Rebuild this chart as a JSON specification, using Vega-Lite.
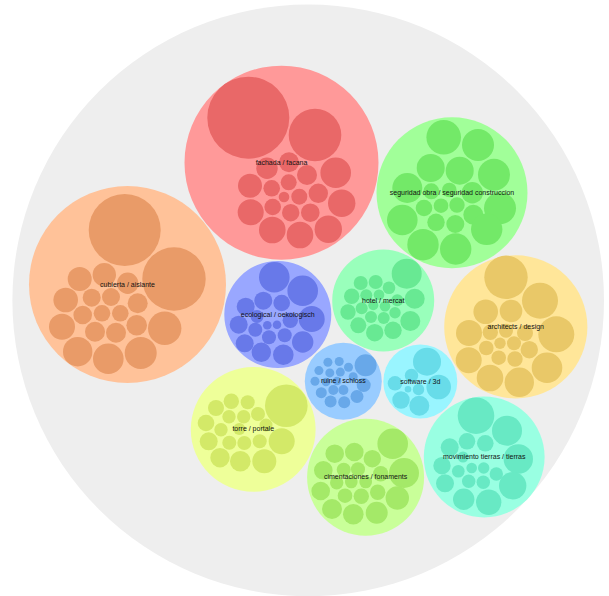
{
  "$schema": "https://vega.github.io/schema/vega-lite/v6.json",
  "width": 609,
  "height": 596,
  "padding": 0,
  "autosize": "none",
  "background": "white",
  "config": {"view": {"stroke": null}},
  "datasets": {
    "outer": [{"name": "all", "x": 308.2, "y": 300.4, "r": 295.8}],
    "groups": [
      {"name": "fachada / facana", "g": "A", "x": 281.5, "y": 162.7, "r": 97},
      {"name": "seguridad obra / seguridad construccion", "g": "B", "x": 452, "y": 192.7, "r": 75.5},
      {"name": "cubierta / aislante", "g": "C", "x": 127.5, "y": 284.5, "r": 98.5},
      {"name": "ecological / oekologisch", "g": "D", "x": 277.8, "y": 314.5, "r": 53.5},
      {"name": "hotel / mercat", "g": "E", "x": 383.2, "y": 300.5, "r": 51},
      {"name": "architects / design", "g": "F", "x": 515.8, "y": 326.9, "r": 71.6},
      {"name": "ruine / schloss", "g": "G", "x": 343.3, "y": 381.2, "r": 38.5},
      {"name": "software / 3d", "g": "H", "x": 420.3, "y": 381.5, "r": 37},
      {"name": "torre / portale", "g": "I", "x": 253.2, "y": 429.4, "r": 62.4},
      {"name": "cimentaciones / fonaments", "g": "J", "x": 365.6, "y": 477.2, "r": 58.5},
      {"name": "movimiento tierras / tierras", "g": "K", "x": 484.2, "y": 457, "r": 60.4}
    ],
    "leaves": [
      {"g": "A", "x": 248.3, "y": 117.7, "r": 41},
      {"g": "A", "x": 315, "y": 135, "r": 26.3},
      {"g": "A", "x": 267, "y": 168.3, "r": 10.7},
      {"g": "A", "x": 289, "y": 162.3, "r": 10},
      {"g": "A", "x": 307, "y": 175, "r": 10},
      {"g": "A", "x": 335.7, "y": 172.7, "r": 15.3},
      {"g": "A", "x": 250, "y": 185.7, "r": 12},
      {"g": "A", "x": 271.7, "y": 188.3, "r": 8.3},
      {"g": "A", "x": 288.7, "y": 182.3, "r": 8},
      {"g": "A", "x": 284, "y": 197, "r": 5.3},
      {"g": "A", "x": 299.3, "y": 196.7, "r": 8},
      {"g": "A", "x": 318.3, "y": 193.3, "r": 9.7},
      {"g": "A", "x": 341.7, "y": 203.3, "r": 13.7},
      {"g": "A", "x": 250.7, "y": 212.3, "r": 13},
      {"g": "A", "x": 272.7, "y": 207, "r": 8.3},
      {"g": "A", "x": 290.7, "y": 212.7, "r": 8.7},
      {"g": "A", "x": 310.3, "y": 212.7, "r": 9.3},
      {"g": "A", "x": 272.3, "y": 230, "r": 13.3},
      {"g": "A", "x": 300, "y": 235, "r": 13.3},
      {"g": "A", "x": 328.3, "y": 229.3, "r": 13.7},

      {"g": "B", "x": 443.7, "y": 137.3, "r": 17.3},
      {"g": "B", "x": 478, "y": 145, "r": 16},
      {"g": "B", "x": 430.7, "y": 168, "r": 14},
      {"g": "B", "x": 459.7, "y": 170.7, "r": 14},
      {"g": "B", "x": 494, "y": 174.7, "r": 16},
      {"g": "B", "x": 407.3, "y": 188, "r": 15},
      {"g": "B", "x": 431.3, "y": 191.3, "r": 8},
      {"g": "B", "x": 449.3, "y": 190, "r": 7.3},
      {"g": "B", "x": 472.3, "y": 192.7, "r": 10.7},
      {"g": "B", "x": 500, "y": 208.3, "r": 16},
      {"g": "B", "x": 424, "y": 208, "r": 8.3},
      {"g": "B", "x": 441, "y": 205.7, "r": 7.3},
      {"g": "B", "x": 457, "y": 205, "r": 7.7},
      {"g": "B", "x": 473.3, "y": 214.7, "r": 10},
      {"g": "B", "x": 402.3, "y": 220, "r": 15.3},
      {"g": "B", "x": 436, "y": 222.3, "r": 8.7},
      {"g": "B", "x": 455.3, "y": 224, "r": 9},
      {"g": "B", "x": 423, "y": 244.7, "r": 15.7},
      {"g": "B", "x": 455.7, "y": 249, "r": 15.7},
      {"g": "B", "x": 486.7, "y": 229.3, "r": 15.7},

      {"g": "C", "x": 124.7, "y": 230, "r": 36},
      {"g": "C", "x": 174, "y": 279, "r": 31.7},
      {"g": "C", "x": 79.7, "y": 279, "r": 12},
      {"g": "C", "x": 104.3, "y": 274.7, "r": 11.7},
      {"g": "C", "x": 127.7, "y": 283.3, "r": 10.7},
      {"g": "C", "x": 65.7, "y": 300, "r": 12.3},
      {"g": "C", "x": 91.7, "y": 297.7, "r": 9},
      {"g": "C", "x": 111, "y": 297, "r": 9},
      {"g": "C", "x": 137.7, "y": 303.3, "r": 10},
      {"g": "C", "x": 62, "y": 326.7, "r": 13},
      {"g": "C", "x": 82.7, "y": 315, "r": 9.3},
      {"g": "C", "x": 102, "y": 313.3, "r": 8.3},
      {"g": "C", "x": 120.3, "y": 313.3, "r": 8.3},
      {"g": "C", "x": 95, "y": 331.7, "r": 10},
      {"g": "C", "x": 116, "y": 332.7, "r": 10},
      {"g": "C", "x": 136.7, "y": 325.3, "r": 10.3},
      {"g": "C", "x": 164.7, "y": 328.3, "r": 16.7},
      {"g": "C", "x": 77.7, "y": 351.7, "r": 14.7},
      {"g": "C", "x": 108.3, "y": 358.7, "r": 15.3},
      {"g": "C", "x": 140.7, "y": 353, "r": 16},

      {"g": "D", "x": 274.3, "y": 277.3, "r": 15.3},
      {"g": "D", "x": 302.7, "y": 290.7, "r": 15.3},
      {"g": "D", "x": 263.3, "y": 300.7, "r": 9},
      {"g": "D", "x": 281.7, "y": 303, "r": 8.3},
      {"g": "D", "x": 245.7, "y": 306.7, "r": 9},
      {"g": "D", "x": 311.7, "y": 319, "r": 13},
      {"g": "D", "x": 257, "y": 316.5, "r": 6.5},
      {"g": "D", "x": 290.3, "y": 320.3, "r": 7.7},
      {"g": "D", "x": 238.7, "y": 324.7, "r": 9},
      {"g": "D", "x": 255.3, "y": 329.7, "r": 7},
      {"g": "D", "x": 267.3, "y": 325.3, "r": 4.3},
      {"g": "D", "x": 277, "y": 324.7, "r": 4.3},
      {"g": "D", "x": 269, "y": 337.3, "r": 7},
      {"g": "D", "x": 284.7, "y": 335.3, "r": 7},
      {"g": "D", "x": 244.7, "y": 343.3, "r": 9},
      {"g": "D", "x": 302.7, "y": 342, "r": 10.7},
      {"g": "D", "x": 261.3, "y": 352.3, "r": 9.7},
      {"g": "D", "x": 283.3, "y": 354.7, "r": 10.3},

      {"g": "E", "x": 406.7, "y": 273.7, "r": 15},
      {"g": "E", "x": 360.7, "y": 283, "r": 7},
      {"g": "E", "x": 375.7, "y": 282, "r": 7},
      {"g": "E", "x": 389, "y": 287.7, "r": 6.3},
      {"g": "E", "x": 351.7, "y": 296.3, "r": 7.7},
      {"g": "E", "x": 366.3, "y": 295.3, "r": 6},
      {"g": "E", "x": 379, "y": 294.7, "r": 5.3},
      {"g": "E", "x": 397.3, "y": 300.3, "r": 6},
      {"g": "E", "x": 414.7, "y": 298.7, "r": 10},
      {"g": "E", "x": 348, "y": 312, "r": 7.7},
      {"g": "E", "x": 361.7, "y": 308.3, "r": 6},
      {"g": "E", "x": 373.3, "y": 305.3, "r": 5},
      {"g": "E", "x": 385, "y": 306.3, "r": 5.3},
      {"g": "E", "x": 395, "y": 312.7, "r": 5.7},
      {"g": "E", "x": 371, "y": 317, "r": 6},
      {"g": "E", "x": 383.7, "y": 318, "r": 6},
      {"g": "E", "x": 410.3, "y": 321, "r": 10},
      {"g": "E", "x": 358.3, "y": 325.3, "r": 8},
      {"g": "E", "x": 374.7, "y": 332.7, "r": 8.7},
      {"g": "E", "x": 393, "y": 330.3, "r": 8.7},

      {"g": "F", "x": 506, "y": 277.3, "r": 21.7},
      {"g": "F", "x": 540, "y": 300.7, "r": 18},
      {"g": "F", "x": 485.7, "y": 311.7, "r": 12.3},
      {"g": "F", "x": 511, "y": 311, "r": 11.3},
      {"g": "F", "x": 556.3, "y": 334.3, "r": 18},
      {"g": "F", "x": 469, "y": 333, "r": 13},
      {"g": "F", "x": 490.3, "y": 332.3, "r": 7.7},
      {"g": "F", "x": 506, "y": 330.7, "r": 7},
      {"g": "F", "x": 525, "y": 333, "r": 8},
      {"g": "F", "x": 486.3, "y": 348, "r": 7.3},
      {"g": "F", "x": 500, "y": 343.3, "r": 5.7},
      {"g": "F", "x": 514, "y": 343.3, "r": 7},
      {"g": "F", "x": 529.3, "y": 349.7, "r": 8.7},
      {"g": "F", "x": 468.7, "y": 360.3, "r": 13},
      {"g": "F", "x": 498.7, "y": 357.7, "r": 7.3},
      {"g": "F", "x": 515, "y": 359, "r": 7.7},
      {"g": "F", "x": 547, "y": 367.7, "r": 15.3},
      {"g": "F", "x": 490, "y": 378, "r": 13.3},
      {"g": "F", "x": 519.3, "y": 382.3, "r": 14.7},

      {"g": "G", "x": 327.9, "y": 362.2, "r": 4.5},
      {"g": "G", "x": 339.2, "y": 361.5, "r": 4.5},
      {"g": "G", "x": 348.5, "y": 367.2, "r": 4.5},
      {"g": "G", "x": 318.9, "y": 370.6, "r": 4.5},
      {"g": "G", "x": 329.8, "y": 372.9, "r": 4.5},
      {"g": "G", "x": 340.3, "y": 372.1, "r": 4.5},
      {"g": "G", "x": 353.2, "y": 376.7, "r": 4.5},
      {"g": "G", "x": 315, "y": 381.3, "r": 4.5},
      {"g": "G", "x": 326, "y": 382, "r": 4.3},
      {"g": "G", "x": 337, "y": 381, "r": 4.3},
      {"g": "G", "x": 365.6, "y": 365.3, "r": 11},
      {"g": "G", "x": 363.7, "y": 385.1, "r": 7},
      {"g": "G", "x": 321.3, "y": 392.7, "r": 5.5},
      {"g": "G", "x": 333.3, "y": 390, "r": 5},
      {"g": "G", "x": 343.4, "y": 390, "r": 5},
      {"g": "G", "x": 357, "y": 396.5, "r": 6.5},
      {"g": "G", "x": 330.6, "y": 401.4, "r": 6},
      {"g": "G", "x": 344.2, "y": 402.2, "r": 6},

      {"g": "H", "x": 427, "y": 361.7, "r": 14},
      {"g": "H", "x": 438.7, "y": 387, "r": 12.3},
      {"g": "H", "x": 411.5, "y": 375.5, "r": 6.7},
      {"g": "H", "x": 395, "y": 383.3, "r": 7.3},
      {"g": "H", "x": 408, "y": 389.3, "r": 3.3},
      {"g": "H", "x": 418.5, "y": 389.5, "r": 5.7},
      {"g": "H", "x": 401, "y": 400, "r": 8.7},
      {"g": "H", "x": 419.3, "y": 405.7, "r": 10},

      {"g": "I", "x": 286.3, "y": 405.7, "r": 21.3},
      {"g": "I", "x": 216, "y": 408, "r": 8},
      {"g": "I", "x": 231.3, "y": 401.3, "r": 7.7},
      {"g": "I", "x": 247.7, "y": 402.3, "r": 7},
      {"g": "I", "x": 206, "y": 423, "r": 8.3},
      {"g": "I", "x": 229, "y": 416.7, "r": 6.7},
      {"g": "I", "x": 243.7, "y": 416.7, "r": 6.7},
      {"g": "I", "x": 258, "y": 414, "r": 7},
      {"g": "I", "x": 221, "y": 429.7, "r": 6.7},
      {"g": "I", "x": 239.3, "y": 429, "r": 6},
      {"g": "I", "x": 266, "y": 425, "r": 6.5},
      {"g": "I", "x": 208.7, "y": 441.3, "r": 9},
      {"g": "I", "x": 229.3, "y": 442.7, "r": 7},
      {"g": "I", "x": 244.3, "y": 443, "r": 7},
      {"g": "I", "x": 259.7, "y": 441.3, "r": 7},
      {"g": "I", "x": 281.7, "y": 441.3, "r": 13},
      {"g": "I", "x": 220, "y": 457.7, "r": 9.7},
      {"g": "I", "x": 240.3, "y": 461.3, "r": 10.3},
      {"g": "I", "x": 264.3, "y": 461.3, "r": 12},

      {"g": "J", "x": 392.7, "y": 443.7, "r": 15.3},
      {"g": "J", "x": 334.7, "y": 453.7, "r": 9.3},
      {"g": "J", "x": 354.3, "y": 452, "r": 9.3},
      {"g": "J", "x": 372.3, "y": 458.7, "r": 8.7},
      {"g": "J", "x": 323.3, "y": 470.3, "r": 9.3},
      {"g": "J", "x": 343.7, "y": 469.7, "r": 7},
      {"g": "J", "x": 358, "y": 469.3, "r": 7},
      {"g": "J", "x": 380.7, "y": 473.7, "r": 7.7},
      {"g": "J", "x": 404, "y": 473, "r": 15},
      {"g": "J", "x": 336.7, "y": 482.7, "r": 6.7},
      {"g": "J", "x": 351.3, "y": 482, "r": 6.3},
      {"g": "J", "x": 365.7, "y": 482, "r": 6.3},
      {"g": "J", "x": 320.7, "y": 491, "r": 9.3},
      {"g": "J", "x": 345, "y": 495.7, "r": 7.3},
      {"g": "J", "x": 361.3, "y": 496.3, "r": 7.7},
      {"g": "J", "x": 377.7, "y": 492.3, "r": 7.7},
      {"g": "J", "x": 397.3, "y": 498, "r": 11.7},
      {"g": "J", "x": 332, "y": 509, "r": 10},
      {"g": "J", "x": 353.3, "y": 514.3, "r": 10.3},
      {"g": "J", "x": 376.7, "y": 512.7, "r": 11},

      {"g": "K", "x": 476, "y": 415.7, "r": 18.3},
      {"g": "K", "x": 507, "y": 430.7, "r": 15},
      {"g": "K", "x": 467, "y": 441.3, "r": 8.3},
      {"g": "K", "x": 485.3, "y": 443.3, "r": 8.3},
      {"g": "K", "x": 449.7, "y": 447.3, "r": 9},
      {"g": "K", "x": 518.3, "y": 459, "r": 14.7},
      {"g": "K", "x": 463, "y": 457, "r": 5.5},
      {"g": "K", "x": 442, "y": 465.7, "r": 8.7},
      {"g": "K", "x": 458.3, "y": 471.3, "r": 6.3},
      {"g": "K", "x": 471.7, "y": 468, "r": 5.3},
      {"g": "K", "x": 483.7, "y": 468, "r": 5.7},
      {"g": "K", "x": 496.3, "y": 474, "r": 6.7},
      {"g": "K", "x": 445, "y": 483.3, "r": 9},
      {"g": "K", "x": 468.7, "y": 481.3, "r": 6.7},
      {"g": "K", "x": 483.3, "y": 482.3, "r": 6.7},
      {"g": "K", "x": 512.7, "y": 485.7, "r": 13.7},
      {"g": "K", "x": 463.7, "y": 499.3, "r": 10.7},
      {"g": "K", "x": 488.7, "y": 502.3, "r": 12.7}
    ]
  },
  "encoding": {
    "x": {"field": "x", "type": "quantitative", "scale": {"domain": [0, 609], "nice": false, "zero": false}, "axis": null},
    "y": {"field": "y", "type": "quantitative", "scale": {"domain": [596, 0], "nice": false, "zero": false}, "axis": null}
  },
  "layer": [
    {
      "data": {"name": "outer"},
      "mark": {"type": "circle", "opacity": 1, "color": "#eeeeee", "strokeWidth": 0},
      "encoding": {
        "size": {"field": "r", "type": "quantitative", "scale": {"type": "pow", "exponent": 2, "domain": [0, 300], "range": [0, 360000]}, "legend": null}
      }
    },
    {
      "data": {"name": "groups"},
      "mark": {"type": "circle", "opacity": 1, "strokeWidth": 0},
      "encoding": {
        "size": {"field": "r", "type": "quantitative", "scale": {"type": "pow", "exponent": 2, "domain": [0, 300], "range": [0, 360000]}, "legend": null},
        "color": {"field": "g", "type": "nominal", "legend": null,
          "scale": {"domain": ["A","B","C","D","E","F","G","H","I","J","K"],
                    "range": ["#ff9999","#a1ff99","#ffc299","#99a7ff","#99ffbb","#ffe699","#99ccff","#99f5ff","#eeff99","#c9ff99","#99ffe2"]}}
      }
    },
    {
      "data": {"name": "leaves"},
      "mark": {"type": "circle", "opacity": 1, "strokeWidth": 0},
      "encoding": {
        "size": {"field": "r", "type": "quantitative", "scale": {"type": "pow", "exponent": 2, "domain": [0, 300], "range": [0, 360000]}, "legend": null},
        "color": {"field": "g", "type": "nominal", "legend": null,
          "scale": {"domain": ["A","B","C","D","E","F","G","H","I","J","K"],
                    "range": ["#e96868","#73e968","#e99b68","#6879e9","#68e993","#e9c868","#68a8e9","#68dce9","#d3e968","#a4e968","#68e9c4"]}}
      }
    },
    {
      "data": {"name": "groups"},
      "mark": {"type": "text", "font": "Liberation Sans", "fontSize": 7, "color": "#111111", "align": "center", "baseline": "middle"},
      "encoding": {
        "text": {"field": "name", "type": "nominal"}
      }
    }
  ],
  "resolve": {"scale": {"color": "independent", "size": "shared"}}
}
